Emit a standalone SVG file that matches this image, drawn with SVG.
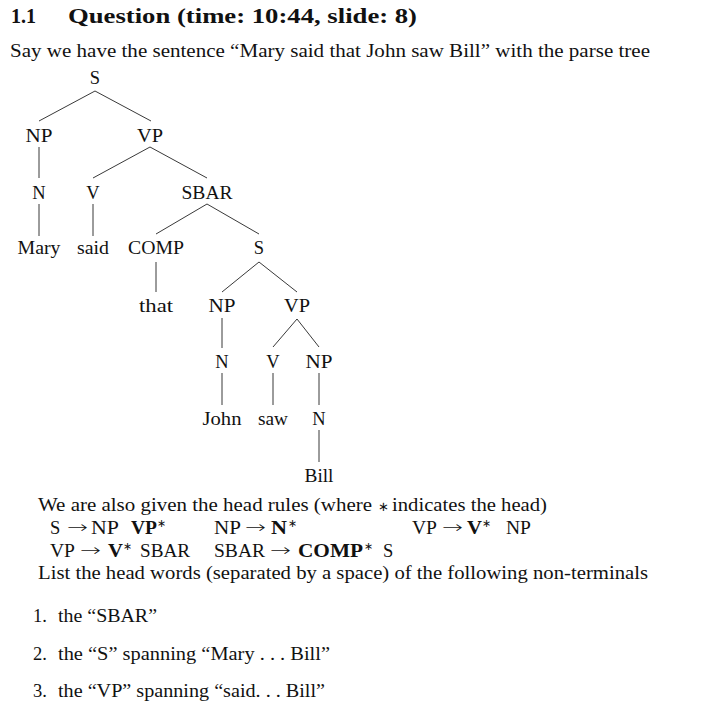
<svg xmlns="http://www.w3.org/2000/svg" width="721" height="715" viewBox="0 0 721 715">
<style>
text{font-family:"Liberation Serif","Times New Roman",serif;fill:#111;font-size:18.5px}
.h{font-weight:bold;font-size:22px}
.b{font-weight:bold}
.n text{text-anchor:middle}
.ar{font-family:"DejaVu Sans",sans-serif;font-weight:200;font-size:17px}
.st{font-family:"DejaVu Sans",sans-serif;font-size:11px}
.op{font-family:"DejaVu Sans",sans-serif;font-size:13px}
#connectors line{stroke:#222;stroke-width:0.9}
</style>
<rect width="721" height="715" fill="#fff"/>
<text class="h" x="11" y="23" textLength="25" lengthAdjust="spacingAndGlyphs">1.1</text>
<text class="h" x="68" y="23" textLength="349" lengthAdjust="spacingAndGlyphs">Question (time: 10:44, slide: 8)</text>
<text x="10" y="57" textLength="640" lengthAdjust="spacingAndGlyphs">Say we have the sentence “Mary said that John saw Bill” with the parse tree</text>

<g id="connectors">
<line x1="95" y1="91" x2="39" y2="121"/>
<line x1="95" y1="91" x2="151" y2="121"/>
<line x1="39" y1="147" x2="39" y2="178"/>
<line x1="150" y1="147" x2="93" y2="178"/>
<line x1="150" y1="147" x2="207" y2="178"/>
<line x1="39" y1="204" x2="39" y2="236"/>
<line x1="93" y1="204" x2="93" y2="236"/>
<line x1="207" y1="204" x2="156" y2="234"/>
<line x1="207" y1="204" x2="259" y2="234"/>
<line x1="156" y1="262" x2="156" y2="292"/>
<line x1="259" y1="262" x2="222" y2="292"/>
<line x1="259" y1="262" x2="297" y2="292"/>
<line x1="222" y1="318" x2="222" y2="348"/>
<line x1="297" y1="319" x2="273" y2="347"/>
<line x1="297" y1="319" x2="319" y2="347"/>
<line x1="222" y1="373" x2="222" y2="405"/>
<line x1="273" y1="373" x2="273" y2="405"/>
<line x1="319" y1="373" x2="319" y2="405"/>
<line x1="319" y1="430" x2="319" y2="462"/>
</g>

<g class="n">
<g id="node-S1"><text x="95" y="84">S</text></g>
<g id="node-NP1"><text x="39" y="142" textLength="27" lengthAdjust="spacingAndGlyphs">NP</text></g>
<g id="node-VP1"><text x="150" y="142" textLength="26" lengthAdjust="spacingAndGlyphs">VP</text></g>
<g id="node-N1"><text x="39" y="199">N</text></g>
<g id="node-V1"><text x="93" y="199">V</text></g>
<g id="node-SBAR"><text x="207" y="199" textLength="51" lengthAdjust="spacingAndGlyphs">SBAR</text></g>
<g id="node-Mary"><text x="39" y="254" textLength="43" lengthAdjust="spacingAndGlyphs">Mary</text></g>
<g id="node-said"><text x="93" y="254" textLength="32" lengthAdjust="spacingAndGlyphs">said</text></g>
<g id="node-COMP"><text x="156" y="254" textLength="56" lengthAdjust="spacingAndGlyphs">COMP</text></g>
<g id="node-S2"><text x="259" y="254">S</text></g>
<g id="node-that"><text x="156" y="312" textLength="34" lengthAdjust="spacingAndGlyphs">that</text></g>
<g id="node-NP2"><text x="222" y="312" textLength="27" lengthAdjust="spacingAndGlyphs">NP</text></g>
<g id="node-VP2"><text x="297" y="312" textLength="26" lengthAdjust="spacingAndGlyphs">VP</text></g>
<g id="node-N2"><text x="222" y="368">N</text></g>
<g id="node-V2"><text x="273" y="368">V</text></g>
<g id="node-NP3"><text x="319" y="368" textLength="27" lengthAdjust="spacingAndGlyphs">NP</text></g>
<g id="node-John"><text x="222" y="425" textLength="39" lengthAdjust="spacingAndGlyphs">John</text></g>
<g id="node-saw"><text x="273" y="425" textLength="30" lengthAdjust="spacingAndGlyphs">saw</text></g>
<g id="node-N3"><text x="319" y="425">N</text></g>
<g id="node-Bill"><text x="319" y="482" textLength="29" lengthAdjust="spacingAndGlyphs">Bill</text></g>
</g>

<text x="38" y="511" textLength="334" lengthAdjust="spacingAndGlyphs">We are also given the head rules (where</text>
<text class="op" x="378" y="511">∗</text>
<text x="392" y="511" textLength="155" lengthAdjust="spacingAndGlyphs">indicates the head)</text>

<text x="50" y="534">S</text><text class="ar" x="67" y="533" textLength="21" lengthAdjust="spacingAndGlyphs">→</text><text x="91" y="534" textLength="28" lengthAdjust="spacingAndGlyphs">NP</text><text class="b" x="131" y="534" textLength="26" lengthAdjust="spacingAndGlyphs">VP</text><text class="st" x="157" y="527">∗</text>
<text x="214" y="534" textLength="27" lengthAdjust="spacingAndGlyphs">NP</text><text class="ar" x="245" y="533" textLength="21" lengthAdjust="spacingAndGlyphs">→</text><text class="b" x="271" y="534" textLength="16" lengthAdjust="spacingAndGlyphs">N</text><text class="st" x="288" y="527">∗</text>
<text x="412" y="534" textLength="25" lengthAdjust="spacingAndGlyphs">VP</text><text class="ar" x="442" y="533" textLength="21" lengthAdjust="spacingAndGlyphs">→</text><text class="b" x="467" y="534" textLength="15" lengthAdjust="spacingAndGlyphs">V</text><text class="st" x="482" y="527">∗</text><text x="506" y="534" textLength="25" lengthAdjust="spacingAndGlyphs">NP</text>

<text x="50" y="557" textLength="25" lengthAdjust="spacingAndGlyphs">VP</text><text class="ar" x="80" y="556" textLength="21" lengthAdjust="spacingAndGlyphs">→</text><text class="b" x="108" y="557" textLength="15" lengthAdjust="spacingAndGlyphs">V</text><text class="st" x="123" y="550">∗</text><text x="140" y="557" textLength="50" lengthAdjust="spacingAndGlyphs">SBAR</text>
<text x="214" y="557" textLength="51" lengthAdjust="spacingAndGlyphs">SBAR</text><text class="ar" x="270" y="556" textLength="21" lengthAdjust="spacingAndGlyphs">→</text><text class="b" x="298" y="557" textLength="65" lengthAdjust="spacingAndGlyphs">COMP</text><text class="st" x="364" y="550">∗</text><text x="383" y="557">S</text>

<text x="38" y="579" textLength="610" lengthAdjust="spacingAndGlyphs">List the head words (separated by a space) of the following non-terminals</text>

<text x="33" y="622">1.</text><text x="58" y="622" textLength="99" lengthAdjust="spacingAndGlyphs">the “SBAR”</text>
<text x="33" y="660">2.</text><text x="58" y="660" textLength="272" lengthAdjust="spacingAndGlyphs">the “S” spanning “Mary . . . Bill”</text>
<text x="33" y="697">3.</text><text x="58" y="697" textLength="267" lengthAdjust="spacingAndGlyphs">the “VP” spanning “said. . . Bill”</text>
</svg>
